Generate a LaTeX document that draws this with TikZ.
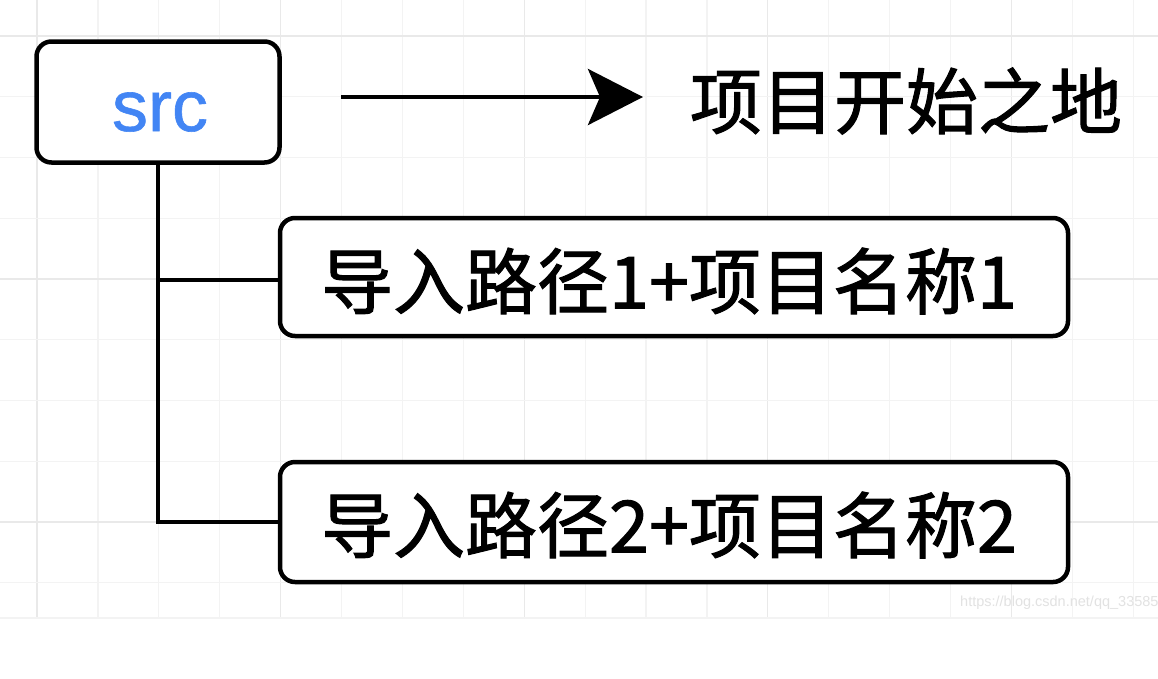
\documentclass[tikz,border=0pt]{standalone}
\usepackage{fontspec}
\setmainfont{Liberation Sans}
\newfontfamily\cjk[FakeBold=1.4]{Noto Sans CJK SC}
\newfontfamily\srcfont[FakeBold=0.8]{Liberation Sans}
\usetikzlibrary{arrows.meta}
\definecolor{srcblue}{RGB}{66,133,244}
\definecolor{gridminor}{RGB}{243,243,243}
\definecolor{gridmajor}{RGB}{233,233,233}
\definecolor{wmark}{RGB}{226,226,226}
\tikzset{
  box/.style={draw=black, line width=4.5pt, rounded corners=15pt, fill=white, inner sep=0pt, align=center},
  cjktext/.style={font=\cjk\fontsize{72}{80}\selectfont},
  wire/.style={draw=black, line width=4.5pt},
  arrowline/.style={draw=black, line width=4.5pt, -{Stealth[length=55pt,width=56pt,inset=12pt]}},
}
\begin{document}
\begin{tikzpicture}[x=1pt,y=-1pt]
\useasboundingbox (0,0) rectangle (1158,678);
\clip (0,0) rectangle (1158,678);
\fill[white] (0,0) rectangle (1158,678);
% grid
\foreach \i in {0,...,18} {
  \pgfmathsetmacro{\xx}{37+60.9*\i}
  \pgfmathtruncatemacro{\m}{mod(\i,4)}
  \ifnum\m=0
    \draw[gridmajor, line width=1.2pt] (\xx,0) -- (\xx,618);
  \else
    \draw[gridminor, line width=1.2pt] (\xx,0) -- (\xx,618);
  \fi
}
\foreach \j in {0,...,9} {
  \pgfmathsetmacro{\yy}{36+60.75*\j}
  \pgfmathtruncatemacro{\m}{mod(\j,4)}
  \ifnum\m=0
    \draw[gridmajor, line width=1.2pt] (0,\yy) -- (1158,\yy);
  \else
    \draw[gridminor, line width=1.2pt] (0,\yy) -- (1158,\yy);
  \fi
}
\draw[gridminor, line width=1.2pt] (0,618) -- (1158,618);
% watermark
\node[anchor=west, text=wmark, font=\fontsize{14.5}{17}\selectfont, inner sep=0pt] (wm) at (960,603) {https://blog.csdn.net/qq\_33585};
% connectors
\coordinate (bend2) at (158,522);
\coordinate (bend1) at (158,280);
% nodes
\node[box, minimum width=243pt, minimum height=121pt] (src) at (158,102) {};
\node[font=\srcfont\fontsize{72}{80}\selectfont, text=srcblue, inner sep=0pt] (srct) at (160,112) {src};
\node[box, minimum width=788pt, minimum height=118pt] (b1) at (674,277) {};
\node[cjktext, inner sep=0pt] (b1t) at (669,281) {导入路径1+项目名称1};
\node[box, minimum width=788pt, minimum height=120pt] (b2) at (674,522) {};
\node[cjktext, inner sep=0pt] (b2t) at (669,525) {导入路径2+项目名称2};
\node[cjktext, inner sep=0pt] (title) at (906,101) {项目开始之地};
\coordinate (a1) at (341,97);
\coordinate (a2) at (643,97);
\draw[arrowline] (a1) -- (a2);
\draw[wire] (src.south -| bend1) -- (bend2) -- (b2.west |- bend2);
\draw[wire] (bend1) -- (b1.west |- bend1);
\end{tikzpicture}
\end{document}
